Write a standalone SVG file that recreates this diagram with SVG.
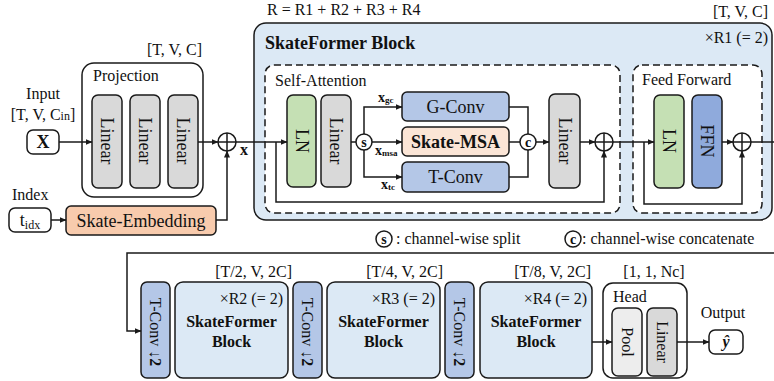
<svg xmlns="http://www.w3.org/2000/svg" width="774" height="381" viewBox="0 0 774 381">
<defs>
<marker id="ah" markerWidth="7" markerHeight="6" refX="6.5" refY="3" orient="auto" markerUnits="userSpaceOnUse">
<path d="M0,0 L7,3 L0,6 z" fill="#1a1a1a"/>
</marker>
<style>
text{font-family:"Liberation Serif","Times New Roman",serif;fill:#111111;}
.t16{font-size:16px;}
.t18{font-size:18px;}
.b{font-weight:bold;}
.box{stroke:#1a1a1a;stroke-width:1.5;}
.dash{fill:#ffffff;stroke:#1a1a1a;stroke-width:1.5;stroke-dasharray:7,4;}
.lin{fill:#d9d9d9;}
.ln{fill:#c5e0b4;}
.conv{fill:#b4c7e7;}
.ffn{fill:#8faadc;}
.msa{fill:#fbe5d6;}
.emb{fill:#f8cbad;}
.blk{fill:#dce9f5;}
.wh{fill:#ffffff;}
.pool{fill:#ededed;}
.c{fill:none;stroke:#1a1a1a;stroke-width:1.5;}
.ca{fill:none;stroke:#1a1a1a;stroke-width:1.5;marker-end:url(#ah);}
.mid{text-anchor:middle;}
.end{text-anchor:end;}
.vc{dominant-baseline:central;}
</style>
</defs>
<rect width="774" height="381" fill="#ffffff"/>

<!-- top labels -->
<text class="t16" x="267" y="15">R = R1 + R2 + R3 + R4</text>

<!-- Input -->
<g id="input">
<text class="t16 mid" x="43" y="99">Input</text>
<text class="t16 mid" x="43" y="120">[T, V, C<tspan font-size="12">in</tspan>]</text>
<rect class="box wh" x="27" y="130" width="32" height="24" rx="6"/>
<text class="t18 b mid vc" x="43" y="142">X</text>
</g>

<g id="index">
<text class="t16" x="12" y="200">Index</text>
<rect class="box wh" x="9" y="208" width="42" height="24" rx="6"/>
<text class="t18 mid" x="30" y="226">t<tspan font-size="12" dy="3">idx</tspan></text>
</g>

<g id="skate-embedding">
<rect class="box emb" x="66" y="206" width="150" height="29" rx="5"/>
<text class="t18 mid vc" x="141" y="221">Skate-Embedding</text>
</g>

<g id="projection">
<text class="t16 end" x="202" y="55">[T, V, C]</text>
<rect class="box wh" x="82" y="63" width="121" height="134" rx="12"/>
<text class="t16" x="93" y="81">Projection</text>
<rect class="box lin" x="92" y="95" width="30" height="93" rx="6"/>
<text class="t18 mid vc" transform="translate(107,141) rotate(90)">Linear</text>
<rect class="box lin" x="130" y="95" width="30" height="93" rx="6"/>
<text class="t18 mid vc" transform="translate(145,141) rotate(90)">Linear</text>
<rect class="box lin" x="168" y="95" width="30" height="93" rx="6"/>
<text class="t18 mid vc" transform="translate(183,141) rotate(90)">Linear</text>
</g>

<g id="add1">
<circle class="box wh" cx="227" cy="142" r="9"/>
<path class="c" d="M218,142 H236 M227,133 V151"/>
<text class="t16 b" x="240" y="155">x</text>
</g>

<!-- SkateFormer block -->
<g id="skateformer-block">
<rect class="box blk" x="254" y="23" width="518" height="197" rx="12"/>
<text class="t18 b" x="265" y="49">SkateFormer Block</text>
<text class="t16 end" x="768" y="17">[T, V, C]</text>
<text class="t16 end" x="768" y="43">×R1 (= 2)</text>
</g>

<g id="self-attention">
<rect class="dash" x="265" y="65" width="355" height="148" rx="9"/>
<text class="t16" x="275" y="86">Self-Attention</text>
</g>

<g id="sa-ln">
<rect class="box ln" x="287" y="95" width="29" height="92" rx="6"/>
<text class="t18 mid vc" transform="translate(301.5,141) rotate(90)">LN</text>
</g>
<g id="sa-linear">
<rect class="box lin" x="321" y="95" width="30" height="92" rx="6"/>
<text class="t18 mid vc" transform="translate(336,141) rotate(90)">Linear</text>
</g>
<g id="split">
<circle class="box wh" cx="364" cy="142" r="8"/>
<text class="b mid vc" font-size="14" x="364" y="142">s</text>
</g>
<g id="g-conv">
<rect class="box conv" x="402" y="92" width="107" height="29" rx="5"/>
<text class="t18 mid vc" x="455.5" y="107">G-Conv</text>
</g>
<g id="skate-msa">
<rect class="box msa" x="402" y="127" width="107" height="29" rx="5"/>
<text class="t18 b mid vc" x="455.5" y="142">Skate-MSA</text>
</g>
<g id="t-conv">
<rect class="box conv" x="402" y="162" width="107" height="30" rx="5"/>
<text class="t18 mid vc" x="455.5" y="177">T-Conv</text>
</g>
<g id="concat">
<circle class="box wh" cx="528" cy="142" r="8"/>
<text class="b mid vc" font-size="14" x="528" y="142">c</text>
</g>
<g id="sa-linear2">
<rect class="box lin" x="549" y="94" width="31" height="94" rx="6"/>
<text class="t18 mid vc" transform="translate(564.5,141) rotate(90)">Linear</text>
</g>
<g id="add2">
<circle class="box wh" cx="604" cy="142" r="9"/>
<path class="c" d="M595,142 H613 M604,133 V151"/>
</g>

<g id="feed-forward">
<rect class="dash" x="633" y="65" width="129" height="148" rx="9"/>
<text class="t16" x="642" y="85">Feed Forward</text>
</g>
<g id="ff-ln">
<rect class="box ln" x="654" y="95" width="30" height="93" rx="6"/>
<text class="t18 mid vc" transform="translate(669,141) rotate(90)">LN</text>
</g>
<g id="ffn">
<rect class="box ffn" x="692" y="95" width="30" height="93" rx="6"/>
<text class="t18 mid vc" transform="translate(707,141) rotate(90)">FFN</text>
</g>
<g id="add3">
<circle class="box wh" cx="742" cy="142" r="9"/>
<path class="c" d="M733,142 H751 M742,133 V151"/>
</g>

<!-- x labels -->
<text class="b" font-size="14" x="378" y="102">x<tspan font-size="9" dy="1">gc</tspan></text>
<text class="b" font-size="14" x="375" y="155">x<tspan font-size="9" dy="1">msa</tspan></text>
<text class="b" font-size="14" x="381" y="189">x<tspan font-size="9" dy="1">tc</tspan></text>

<!-- legend -->
<g id="legend">
<circle class="box wh" cx="384" cy="239" r="8"/>
<text class="b mid vc" font-size="14" x="384" y="239">s</text>
<text class="t16" x="396" y="244">: channel-wise split</text>
<circle class="box wh" cx="573" cy="239" r="8"/>
<text class="b mid vc" font-size="14" x="573" y="239">c</text>
<text class="t16" x="582" y="244">: channel-wise concatenate</text>
</g>

<!-- bottom row -->
<g id="tconv-1">
<rect class="box conv" x="141" y="282" width="29" height="96" rx="6"/>
<text class="t16 mid vc" transform="translate(155.5,332) rotate(90)">T-Conv <tspan class="b">↓2</tspan></text>
</g>
<g id="block-2">
<text class="t16 end" x="292" y="277">[T/2, V, 2C]</text>
<rect class="box blk" x="175" y="282" width="113" height="96" rx="8"/>
<text class="t16 end" x="283" y="304">×R2 (= 2)</text>
<text class="t16 b mid" x="231.5" y="327">SkateFormer</text>
<text class="t16 b mid" x="231.5" y="347">Block</text>
</g>
<g id="tconv-2">
<rect class="box conv" x="293" y="282" width="29" height="96" rx="6"/>
<text class="t16 mid vc" transform="translate(307.5,332) rotate(90)">T-Conv <tspan class="b">↓2</tspan></text>
</g>
<g id="block-3">
<text class="t16 end" x="443" y="277">[T/4, V, 2C]</text>
<rect class="box blk" x="327" y="282" width="113" height="96" rx="8"/>
<text class="t16 end" x="435" y="304">×R3 (= 2)</text>
<text class="t16 b mid" x="383.5" y="327">SkateFormer</text>
<text class="t16 b mid" x="383.5" y="347">Block</text>
</g>
<g id="tconv-3">
<rect class="box conv" x="445" y="282" width="29" height="96" rx="6"/>
<text class="t16 mid vc" transform="translate(459.5,332) rotate(90)">T-Conv <tspan class="b">↓2</tspan></text>
</g>
<g id="block-4">
<text class="t16 end" x="591" y="277">[T/8, V, 2C]</text>
<rect class="box blk" x="480" y="282" width="112" height="96" rx="8"/>
<text class="t16 end" x="587" y="304">×R4 (= 2)</text>
<text class="t16 b mid" x="536" y="327">SkateFormer</text>
<text class="t16 b mid" x="536" y="347">Block</text>
</g>
<g id="head">
<text class="t16 mid" x="654" y="277">[1, 1, Nc]</text>
<rect class="box wh" x="603" y="283" width="84" height="95" rx="10"/>
<text class="t16" x="613" y="302">Head</text>
<rect class="box pool" x="612" y="308" width="30" height="68" rx="6"/>
<text class="t16 mid vc" transform="translate(627,342) rotate(90)">Pool</text>
<rect class="box lin" x="647" y="308" width="30" height="68" rx="6"/>
<text class="t16 mid vc" transform="translate(662,342) rotate(90)">Linear</text>
</g>
<g id="output">
<text class="t16 mid" x="723" y="318">Output</text>
<rect class="box wh" x="709" y="330" width="34" height="24" rx="6"/>
<text class="t16 b mid vc" font-style="italic" x="726" y="341">ŷ</text>
</g>

<!-- connectors -->
<g id="connectors">
<path class="ca" d="M59,142 H92"/>
<path class="ca" d="M198,142 H218"/>
<path class="ca" d="M51,220 H66"/>
<path class="ca" d="M216,220 H227 V151"/>
<path class="ca" d="M236,142 H287"/>
<path class="ca" d="M276,142 V202 H604 V151"/>
<path class="c" d="M351,142 H356"/>
<path class="ca" d="M364,134 V107 H402"/>
<path class="ca" d="M372,142 H402"/>
<path class="ca" d="M364,150 V177 H402"/>
<path class="c" d="M509,107 H528 V134"/>
<path class="c" d="M509,142 H520"/>
<path class="c" d="M509,177 H528 V150"/>
<path class="ca" d="M536,142 H549"/>
<path class="ca" d="M580,142 H595"/>
<path class="ca" d="M613,142 H654"/>
<path class="ca" d="M644,142 V204 H742 V151"/>
<path class="ca" d="M722,142 H733"/>
<path class="c" d="M751,142 H774"/>
<path class="ca" d="M774,253 H127 V331 H141"/>
<path class="ca" d="M592,342 H612"/>
<path class="ca" d="M677,342 H709"/>
</g>
</svg>
